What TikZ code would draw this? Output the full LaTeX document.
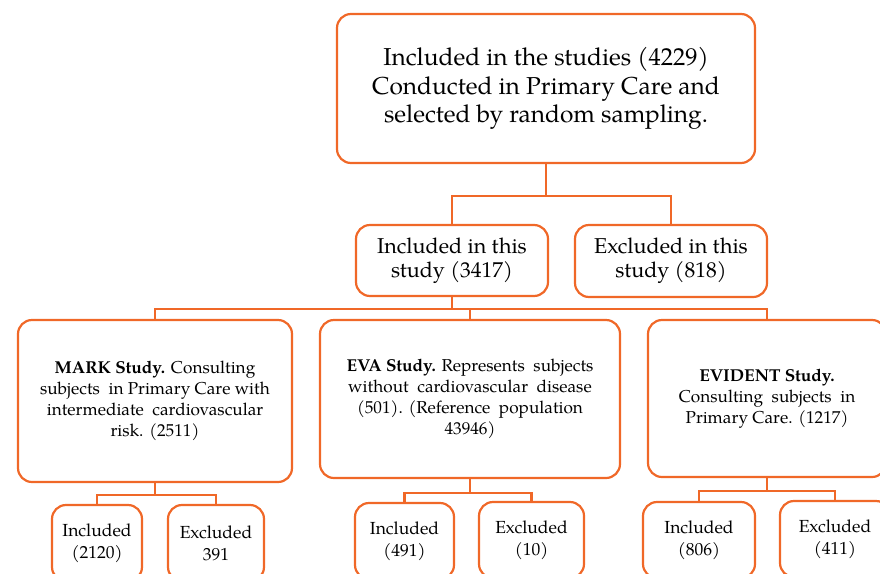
\documentclass[tikz,border=0pt]{standalone}
\usepackage{fontspec}
\setmainfont{TeX Gyre Pagella}
\definecolor{flowOrange}{RGB}{240,104,40}
\tikzset{
  stage/.style={draw=flowOrange, line width=2.2pt, rounded corners=14pt, fill=white,
    inner sep=0pt, align=center},
  link/.style={draw=flowOrange, line width=2.2pt}
}
\begin{document}
\begin{tikzpicture}[x=1pt,y=-1pt]
  \useasboundingbox (0,0) rectangle (880,573);
  \clip (0,0) rectangle (880,573);
  % level 1
  \node[stage, minimum width=418pt, minimum height=149pt,
    font=\fontsize{24.5}{28.5}\selectfont] (all) at (546,88.5)
    {Included in the studies (4229)\\Conducted in Primary Care and\\selected by random sampling.};
  % level 2
  \node[stage, minimum width=192pt, minimum height=71pt,
    font=\fontsize{21.5}{24}\selectfont] (incl) at (452,260.5) {Included in this\\study (3417)};
  \node[stage, minimum width=192pt, minimum height=72pt,
    font=\fontsize{21.5}{24}\selectfont] (excl) at (671,261) {Excluded in this\\study (818)};
  % level 3
  \node[stage, minimum width=274pt, minimum height=162pt,
    font=\fontsize{17.2}{21}\selectfont] (mark) at (155,401)
    {\textbf{MARK Study.} Consulting\\subjects\ \ in Primary Care with\\intermediate\ \ cardiovascular\\risk. (2511)};
  \node[stage, minimum width=300pt, minimum height=158pt,
    font=\fontsize{17.2}{21}\selectfont] (eva) at (470,399)
    {\textbf{EVA Study.} Represents\ \ subjects\\without\ \ cardiovascular\ \ disease\\(501). (Reference\ \ population\\43946)};
  \node[stage, minimum width=238pt, minimum height=157pt,
    font=\fontsize{17.2}{21}\selectfont] (evident) at (767,398.5)
    {\textbf{EVIDENT Study.}\\Consulting\ \ subjects\ \ in\\Primary Care. (1217)};
  % level 4
  \begin{scope}[every node/.append style={stage, minimum height=76pt,
      font=\fontsize{17.5}{22}\selectfont}]
    \node[minimum width=90pt] (markin) at (97,543) {Included\\(2120)};
    \node[minimum width=96pt] (markex) at (216,543) {Excluded\\391};
    \node[minimum width=99pt] (evain) at (404.5,541) {Included\\(491)};
    \node[minimum width=105pt] (evaex) at (531.5,540) {Excluded\\(10)};
    \node[minimum width=112pt] (evidin) at (699,540) {Included\\(806)};
    \node[minimum width=110pt] (evidex) at (835,539) {Excluded\\(411)};
  \end{scope}
  % connectors
  \draw[link] (all.south) -- ++(0,32) coordinate (split1);
  \draw[link] (incl.north) |- (split1) -| (excl.north);
  \draw[link] (incl.south) -- ++(0,12) coordinate (split2);
  \draw[link] (mark.north) |- (split2) -| (evident.north);
  \draw[link] (split2) -| (eva.north);
  \draw[link] (mark.south) -- ++(0,12) coordinate (split3);
  \draw[link] (markin.north) |- (split3) -| (markex.north);
  \draw[link] (eva.south) -- ++(0,14) coordinate (split4);
  \draw[link] (evain.north) |- (split4) -| (evaex.north);
  \draw[link] (evident.south) -- ++(0,13) coordinate (split5);
  \draw[link] (evidin.north) |- (split5) -| (evidex.north);
\end{tikzpicture}
\end{document}
